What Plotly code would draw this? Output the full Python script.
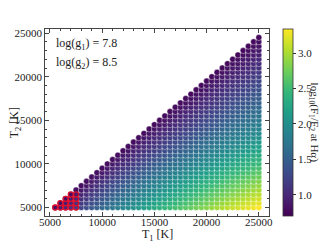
import plotly.graph_objects as go

# Temperature grid (K)
temps = [5000, 5500, 6000, 6500, 7000, 7500, 8000, 8500, 9000, 9500,
         10000, 10500, 11000, 11500, 12000, 12500, 13000, 13500, 14000, 14500,
         15000, 15500, 16000, 16500, 17000, 17500, 18000, 18500, 19000, 19500,
         20000, 20500, 21000, 21500, 22000, 22500, 23000, 23500, 24000, 24500, 25000]

# log10 of H-alpha flux (relative units) for star 1 (log g = 7.8) at each temperature
logF1_Ha = [0.72, 0.81, 0.90, 0.99, 1.07, 1.15, 1.23, 1.32, 1.41, 1.50,
            1.58, 1.66, 1.74, 1.82, 1.89, 1.96, 2.03, 2.10, 2.17, 2.24,
            2.30, 2.36, 2.42, 2.48, 2.54, 2.59, 2.65, 2.70, 2.76, 2.81,
            2.86, 2.92, 2.97, 3.02, 3.07, 3.12, 3.16, 3.21, 3.25, 3.30, 3.34]

# log10 of H-alpha flux (relative units) for star 2 (log g = 8.5) at each temperature
logF2_Ha = [0.00, 0.09, 0.18, 0.27, 0.35, 0.43, 0.51, 0.60, 0.69, 0.78,
            0.86, 0.94, 1.02, 1.10, 1.17, 1.24, 1.31, 1.38, 1.45, 1.52,
            1.58, 1.64, 1.70, 1.76, 1.82, 1.87, 1.93, 1.98, 2.04, 2.09,
            2.14, 2.20, 2.25, 2.30, 2.35, 2.40, 2.44, 2.49, 2.53, 2.58, 2.62]

# flagged (T1, T2) combinations shown in red
flagged_pairs = [(5500, 5000),
                 (6000, 5000), (6000, 5500),
                 (6500, 5000), (6500, 5500), (6500, 6000),
                 (7000, 5000), (7000, 5500), (7000, 6000), (7000, 6500),
                 (7500, 5000), (7500, 5500), (7500, 6000), (7500, 6500)]

axis_ticks = [5000, 10000, 15000, 20000, 25000]
axis_ticklabels = ["5000", "10000", "15000", "20000", "25000"]
cbar_ticks = [1.0, 1.5, 2.0, 2.5, 3.0]

logg1_text = "log(g<sub>1</sub>) = 7.8"
logg2_text = "log(g<sub>2</sub>) = 8.5"
xtitle = "T<sub>1</sub> [K]"
ytitle = "T<sub>2</sub> [K]"
ctitle = "log<sub>10</sub>(F<sub>1</sub>/F<sub>2</sub> at Hα)"

x, y, c = [], [], []
for i, t1 in enumerate(temps):
    for j, t2 in enumerate(temps):
        if t2 < t1:
            x.append(t1)
            y.append(t2)
            c.append(logF1_Ha[i] - logF2_Ha[j])

fx = [p[0] for p in flagged_pairs]
fy = [p[1] for p in flagged_pairs]
fc = [logF1_Ha[temps.index(a)] - logF2_Ha[temps.index(b)] for a, b in flagged_pairs]

FONT = "Liberation Serif"
TXT = "#222222"

fig = go.Figure()
fig.add_trace(go.Scatter(
    x=x, y=y, mode="markers",
    marker=dict(size=6.0, color=c, colorscale="Viridis", cmin=0.70, cmax=3.34,
                line=dict(color="white", width=0.4),
                colorbar=dict(
                    x=1.0625, xanchor="left", xpad=0, y=0.5, yanchor="middle", ypad=0,
                    len=1.0, lenmode="fraction", thickness=10,
                    outlinewidth=0.8, outlinecolor="#333333",
                    tickvals=cbar_ticks, tickformat=".1f",
                    ticks="outside", ticklen=3, tickcolor="#333333",
                    tickfont=dict(family=FONT, size=11, color=TXT),
                )),
    showlegend=False, hoverinfo="skip",
))
fig.add_trace(go.Scatter(
    x=fx, y=fy, mode="markers",
    marker=dict(size=5.0, color=fc, colorscale="Viridis", cmin=0.70, cmax=3.34,
                line=dict(color="#e0102f", width=1.3)),
    showlegend=False, hoverinfo="skip",
))

axis_common = dict(
    showgrid=False, zeroline=False, showline=True, linecolor="#444444", linewidth=0.8,
    mirror="allticks", ticks="inside", ticklen=4, tickcolor="#444444", tickwidth=0.8,
    tickfont=dict(family=FONT, size=11, color=TXT), automargin=False,
    tickvals=axis_ticks, ticktext=axis_ticklabels,
    minor=dict(dtick=1000, ticks="inside", ticklen=2, tickcolor="#444444", tickwidth=0.6),
)
fig.update_xaxes(range=[4525, 25975], ticklabelstandoff=-4, **axis_common)
fig.update_yaxes(range=[4025, 25475], **axis_common)

fig.add_annotation(x=0.5, y=-0.10, xref="paper", yref="paper", xanchor="center", yanchor="middle",
                   text=xtitle, showarrow=False, font=dict(family=FONT, size=12, color=TXT))
fig.add_annotation(x=-0.135, y=0.5, xref="paper", yref="paper", xanchor="center", yanchor="middle",
                   text=ytitle, textangle=-90, showarrow=False, font=dict(family=FONT, size=12, color=TXT))
fig.add_annotation(x=1.205, y=0.50, xref="paper", yref="paper", xanchor="center", yanchor="middle",
                   text=ctitle, textangle=90, showarrow=False, font=dict(family=FONT, size=11, color=TXT))
fig.add_annotation(x=0.04, y=0.92, xref="paper", yref="paper", xanchor="left", yanchor="middle",
                   text=logg1_text, showarrow=False, font=dict(family=FONT, size=12, color=TXT))
fig.add_annotation(x=0.04, y=0.82, xref="paper", yref="paper", xanchor="left", yanchor="middle",
                   text=logg2_text, showarrow=False, font=dict(family=FONT, size=12, color=TXT))

# page body adds an 8px offset, so the figure is 8px smaller than the window
fig.update_layout(width=326, height=234,
                  margin=dict(l=37, r=65, t=21, b=26, autoexpand=False),
                  paper_bgcolor="white", plot_bgcolor="white",
                  font=dict(family=FONT, size=11, color=TXT))
fig.write_html("out.html")
